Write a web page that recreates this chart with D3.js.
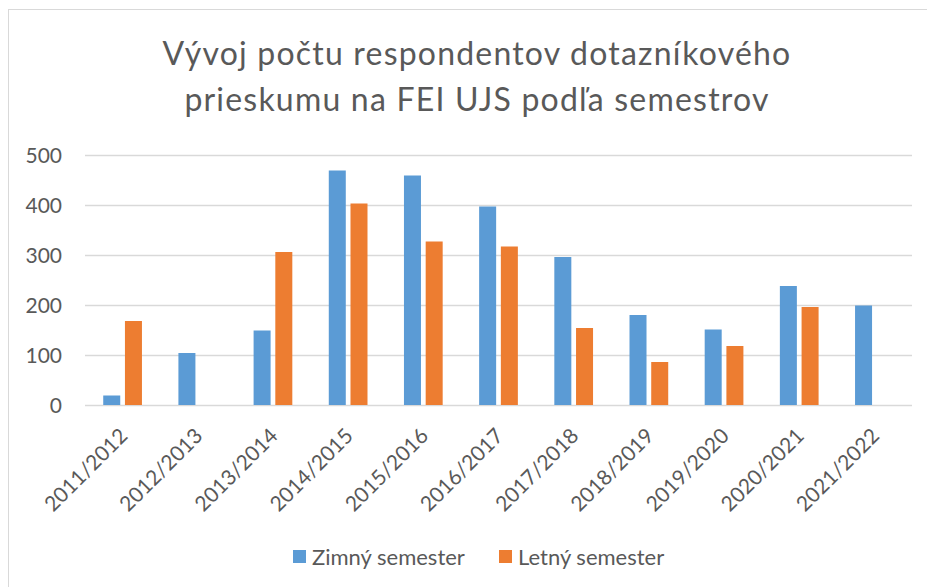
<!DOCTYPE html>
<html>
<head>
<meta charset="utf-8">
<script src="https://cdn.jsdelivr.net/npm/d3@7"></script>
<style>
  body { margin: 0; background: #fff; }
  text { font-family: Lato, "Open Sans", sans-serif; fill: #595959; }
</style>
</head>
<body>
<div class="canvas"></div>
<script>
const years = ['2011/2012', '2012/2013', '2013/2014', '2014/2015', '2015/2016', '2016/2017',
  '2017/2018', '2018/2019', '2019/2020', '2020/2021', '2021/2022']
const zimny = [19, 104, 149, 469, 459, 397, 296, 180, 151, 238, 199]
const letny = [168, 0, 306, 403, 327, 317, 154, 86, 118, 196, 0]
const seriesNames = ['Zimný semester', 'Letný semester']
const yTicks = [0, 100, 200, 300, 400, 500]

const colour = d3.scaleOrdinal().domain(seriesNames).range(['#5B9BD5', '#ED7D31'])

const width = 927, height = 587
const margin = {top: 155, right: 15, bottom: 182, left: 85}

const svg = d3.select('.canvas')
  .append('svg')
  .attr('width', width)
  .attr('height', height)

// chart border
svg.append('rect')
  .attr('x', 8.5).attr('y', 9.5)
  .attr('width', 940).attr('height', 600)
  .attr('fill', 'none')
  .attr('stroke', '#D9D9D9')

const x0 = d3.scaleBand()
  .domain(years)
  .range([margin.left, width - margin.right])
  .paddingInner(0.485)
  .paddingOuter(0.2425)

const x1 = d3.scaleBand()
  .domain(seriesNames)
  .range([0, x0.bandwidth()])
  .paddingInner(0.217)

const y = d3.scaleLinear()
  .domain([0, 500])
  .range([height - margin.bottom, margin.top])

// gridlines
svg.append('g')
  .selectAll('line')
  .data(yTicks)
  .enter().append('line')
  .attr('x1', margin.left)
  .attr('x2', width - margin.right)
  .attr('y1', d => Math.round(y(d)) + 0.5)
  .attr('y2', d => Math.round(y(d)) + 0.5)
  .attr('stroke', '#D9D9D9')
  .attr('stroke-width', 1.3)

// y labels
svg.append('g')
  .selectAll('text')
  .data(yTicks)
  .enter().append('text')
  .attr('x', 62)
  .attr('y', d => y(d))
  .attr('dy', '0.36em')
  .attr('text-anchor', 'end')
  .style('font-size', '21px')
  .text(d => d)

const rows = years.map((yr, i) => ({year: yr, values: [zimny[i], letny[i]]}))

const groups = svg.append('g')
  .selectAll('g')
  .data(rows)
  .enter().append('g')
  .attr('transform', d => `translate(${x0(d.year)},0)`)

groups.selectAll('rect')
  .data(d => d.values.map((v, i) => ({name: seriesNames[i], value: v})))
  .enter().append('rect')
  .filter(d => d.value > 0)
  .attr('x', d => x1(d.name))
  .attr('width', x1.bandwidth())
  .attr('y', d => y(d.value))
  .attr('height', d => y(0) - y(d.value))
  .attr('fill', d => colour(d.name))

// x labels
svg.append('g')
  .selectAll('text')
  .data(years)
  .enter().append('text')
  .attr('transform', d => `translate(${x0(d) + x0.bandwidth() / 2 + 1},432) rotate(-45)`)
  .attr('text-anchor', 'end')
  .attr('dy', '0.35em')
  .style('font-size', '21px')
  .text(d => d)

// title
const title = svg.append('text')
  .attr('x', 477)
  .attr('text-anchor', 'middle')
  .style('font-size', '32px')
  .style('letter-spacing', '1.2px')
title.append('tspan').attr('x', 477).attr('y', 65).text('Vývoj počtu respondentov dotazníkového')
title.append('tspan').attr('x', 477).attr('y', 111).text('prieskumu na FEI UJS podľa semestrov')

// legend
const legendPos = [293, 499]
const legend = svg.append('g')
  .selectAll('g')
  .data(seriesNames)
  .enter().append('g')
  .attr('transform', (d, i) => `translate(${legendPos[i]},550)`)
legend.append('rect')
  .attr('width', 13).attr('height', 13)
  .attr('fill', d => colour(d))
legend.append('text')
  .attr('x', 19)
  .attr('y', 7)
  .attr('dy', '0.36em')
  .style('font-size', '22px')
  .text(d => d)
</script>
</body>
</html>
